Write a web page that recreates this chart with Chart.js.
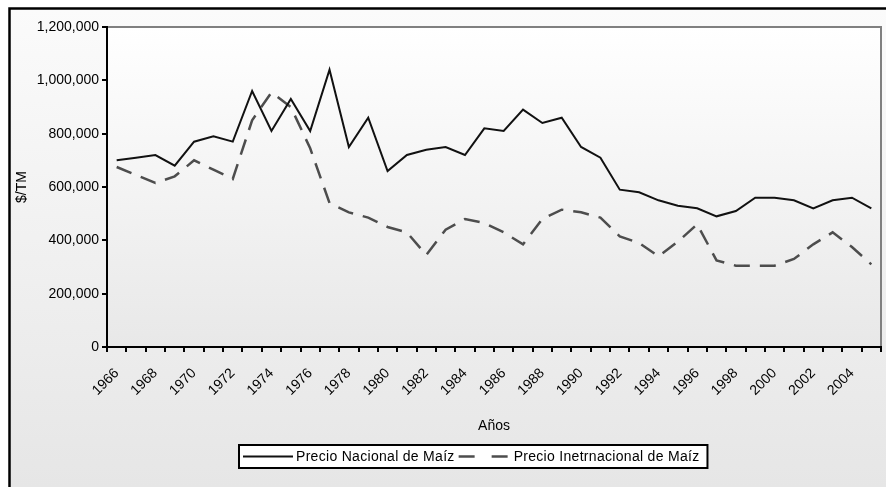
<!DOCTYPE html>
<html>
<head>
<meta charset="utf-8">
<script src="https://cdn.jsdelivr.net/npm/chart.js@4"></script>
<style>
  html, body { margin: 0; padding: 0; background: #fff; }
  #wrap { width: 886px; height: 487px; }
</style>
</head>
<body>
<div id="wrap"><canvas id="chartMaiz" width="886" height="487"></canvas></div>
<script>
const years = ['1966', '1967', '1968', '1969', '1970', '1971', '1972', '1973', '1974', '1975',
  '1976', '1977', '1978', '1979', '1980', '1981', '1982', '1983', '1984', '1985',
  '1986', '1987', '1988', '1989', '1990', '1991', '1992', '1993', '1994', '1995',
  '1996', '1997', '1998', '1999', '2000', '2001', '2002', '2003', '2004', '2005'];

const nacional = [700000, 710000, 720000, 680000, 770000, 790000, 770000, 960000, 810000, 930000,
  810000, 1040000, 750000, 860000, 660000, 720000, 740000, 750000, 720000, 820000,
  810000, 890000, 840000, 860000, 750000, 710000, 590000, 580000, 550000, 530000,
  520000, 490000, 510000, 560000, 560000, 550000, 520000, 550000, 560000, 520000];

const internacional = [675000, 645000, 615000, 640000, 700000, 665000, 630000, 850000, 955000, 900000,
  745000, 540000, 505000, 485000, 450000, 430000, 345000, 440000, 480000, 465000,
  430000, 385000, 480000, 515000, 505000, 485000, 415000, 390000, 340000, 395000,
  460000, 325000, 305000, 305000, 305000, 330000, 385000, 430000, 375000, 310000];

const yTicks = [0, 200000, 400000, 600000, 800000, 1000000, 1200000];
const serieNames = ['Precio Nacional de Maíz', 'Precio Inetrnacional de Maíz'];

const FONT = 'Liberation Sans, Arial, sans-serif';

// background, frame and plot border
const bgPlugin = {
  id: 'bgPlugin',
  beforeDraw(chart) {
    const ctx = chart.ctx;
    const a = chart.chartArea;
    const W = chart.width, H = chart.height;
    ctx.save();
    ctx.fillStyle = '#ffffff';
    ctx.fillRect(0, 0, W, H);
    let g = ctx.createLinearGradient(0, 9, 0, H);
    g.addColorStop(0, '#fbfbfb');
    g.addColorStop(1, '#e6e6e6');
    ctx.fillStyle = g;
    ctx.fillRect(9, 9, W - 9, H - 9);
    ctx.strokeStyle = '#000';
    ctx.lineWidth = 2.5;
    ctx.beginPath();
    ctx.moveTo(9.5, H);
    ctx.lineTo(9.5, 8.5);
    ctx.lineTo(W, 8.5);
    ctx.stroke();
    g = ctx.createLinearGradient(0, a.top, 0, a.bottom);
    g.addColorStop(0, '#ffffff');
    g.addColorStop(1, '#e8e8e8');
    ctx.fillStyle = g;
    ctx.fillRect(a.left, a.top, a.right - a.left, a.bottom - a.top);
    ctx.strokeStyle = '#808080';
    ctx.lineWidth = 2;
    ctx.beginPath();
    ctx.moveTo(a.left, a.top);
    ctx.lineTo(a.right, a.top);
    ctx.lineTo(a.right, a.bottom);
    ctx.stroke();
    ctx.restore();
  },
  afterDraw(chart) {
    // legend box
    const ctx = chart.ctx;
    const ds = chart.data.datasets;
    ctx.save();
    ctx.font = '14px ' + FONT;
    ctx.letterSpacing = '0.3px';
    const sample = 50;
    const w0 = ctx.measureText(ds[0].label).width;
    const w1 = ctx.measureText(ds[1].label).width;
    const total = 4 + sample + 3 + w0 + 4 + sample + 5 + w1 + 8;
    const cx = 473.5;
    const x0 = Math.round(cx - total / 2);
    const y0 = 445, h = 23, cy = y0 + h / 2;
    ctx.fillStyle = '#fff';
    ctx.fillRect(x0, y0, total, h);
    ctx.strokeStyle = '#000';
    ctx.lineWidth = 2;
    ctx.strokeRect(x0, y0, total, h);
    let x = x0 + 4;
    ctx.textBaseline = 'middle';
    ctx.textAlign = 'left';
    for (let i = 0; i < 2; i++) {
      ctx.strokeStyle = ds[i].borderColor;
      ctx.lineWidth = ds[i].borderWidth;
      ctx.setLineDash(i === 0 ? [] : [16, 17]);
      ctx.beginPath();
      ctx.moveTo(x, cy);
      ctx.lineTo(x + sample, cy);
      ctx.stroke();
      ctx.setLineDash([]);
      x += sample + (i === 0 ? 3 : 5);
      ctx.fillStyle = '#000';
      ctx.fillText(ds[i].label, x, cy + 1);
      x += (i === 0 ? w0 : w1) + 4;
    }
    ctx.restore();
  }
};

var ctxMaiz = document.getElementById('chartMaiz').getContext('2d');
var chart = new Chart(ctxMaiz, {
  type: 'line',
  data: {
    labels: years,
    datasets: [{
      label: serieNames[0],
      data: nacional,
      borderColor: '#111111',
      borderWidth: 2,
      pointRadius: 0,
      tension: 0,
      fill: false
    }, {
      label: serieNames[1],
      data: internacional,
      borderColor: '#4d4d4d',
      borderWidth: 2.5,
      borderDash: [16, 10],
      pointRadius: 0,
      tension: 0,
      fill: false
    }]
  },
  options: {
    responsive: false,
    animation: false,
    layout: { padding: { left: 9, top: 27, right: 5, bottom: 50 } },
    plugins: {
      legend: { display: false },
      tooltip: { enabled: false }
    },
    scales: {
      x: {
        type: 'category',
        offset: true,
        grid: { offset: true, drawOnChartArea: false, drawTicks: true, tickLength: 5, color: '#000', lineWidth: 2 },
        border: { color: '#000', width: 2 },
        ticks: {
          autoSkip: false,
          maxRotation: 45,
          minRotation: 45,
          padding: 13,
          color: '#000',
          font: { family: FONT, size: 14 },
          callback: function (v, i) { return i % 2 === 0 ? years[i] : ''; }
        },
        title: { display: true, text: 'Años', color: '#000', font: { family: FONT, size: 14 }, padding: { top: 0, bottom: 2 } },
        afterFit: function (s) { s.height = 90; s.paddingLeft = 0; s.paddingRight = 0; }
      },
      y: {
        min: 0,
        max: 1200000,
        afterBuildTicks: function (s) { s.ticks = yTicks.map(v => ({ value: v })); },
        grid: { drawOnChartArea: false, drawTicks: true, tickLength: 5, color: '#000', lineWidth: 2 },
        border: { color: '#000', width: 2 },
        ticks: {
          padding: 3,
          color: '#000',
          font: { family: FONT, size: 14 },
          callback: function (v) { return v.toLocaleString('en-US'); }
        },
        title: { display: true, text: '$/TM', color: '#000', font: { family: FONT, size: 14 }, padding: { top: 5, bottom: 0 } },
        afterFit: function (s) { s.width = 98; }
      }
    }
  },
  plugins: [bgPlugin]
});
</script>
</body>
</html>
